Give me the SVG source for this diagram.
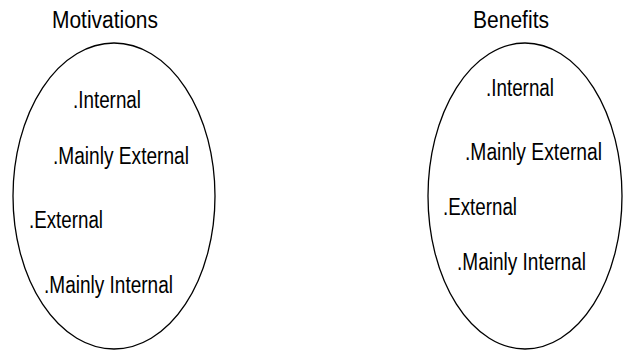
<svg xmlns="http://www.w3.org/2000/svg" width="623" height="354" viewBox="0 0 623 354">
<style>
.t{font-family:"Liberation Sans",Arial,sans-serif;font-size:23px;fill:#000}
.e{fill:none;stroke:#000;stroke-width:1.3}
</style>
<rect width="623" height="354" fill="#fff"/>
<g id="motivations">
<ellipse class="e" cx="114" cy="196" rx="101" ry="153"/>
<text class="t" x="52" y="28" textLength="106" lengthAdjust="spacingAndGlyphs">Motivations</text>
<text class="t" x="73" y="108" textLength="68" lengthAdjust="spacingAndGlyphs">.Internal</text>
<text class="t" x="53" y="164" textLength="136" lengthAdjust="spacingAndGlyphs">.Mainly External</text>
<text class="t" x="29" y="228" textLength="74" lengthAdjust="spacingAndGlyphs">.External</text>
<text class="t" x="44" y="293" textLength="129" lengthAdjust="spacingAndGlyphs">.Mainly Internal</text>
</g>
<g id="benefits">
<ellipse class="e" cx="525" cy="196" rx="97" ry="153"/>
<text class="t" x="473" y="28" textLength="76" lengthAdjust="spacingAndGlyphs">Benefits</text>
<text class="t" x="486" y="96" textLength="68" lengthAdjust="spacingAndGlyphs">.Internal</text>
<text class="t" x="465" y="160" textLength="137" lengthAdjust="spacingAndGlyphs">.Mainly External</text>
<text class="t" x="443" y="215" textLength="74" lengthAdjust="spacingAndGlyphs">.External</text>
<text class="t" x="457" y="270" textLength="129" lengthAdjust="spacingAndGlyphs">.Mainly Internal</text>
</g>
<g id="connectors"/>
</svg>
